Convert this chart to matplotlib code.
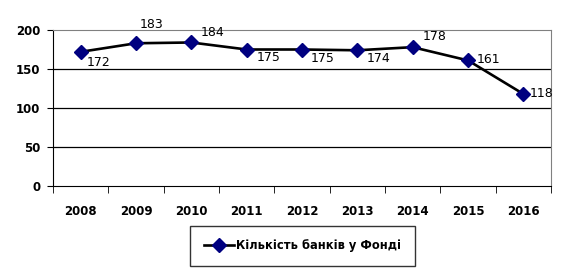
import numpy as np
import matplotlib.pyplot as plt

years = ["2008", "2009", "2010", "2011", "2012", "2013", "2014", "2015", "2016"]
banks = [172, 183, 184, 175, 175, 174, 178, 161, 118]
# label offsets in pixels (dx, dy), picked by eye from the reference
offsets = [(6, -11), (4, 19), (9, 10), (10, -8), (9, -9), (9, -8), (10, 11), (9, 1), (6, 0)]

fig = plt.figure(figsize=(5.61, 2.75), dpi=100)
ax = fig.add_axes([53 / 561, 1 - 186 / 275, 498 / 561, 156 / 275])

x = np.arange(len(years))
line, = ax.plot(x, banks, color="black", lw=1.9, marker="D", ms=7,
                mfc="#000080", mec="#000080", label="Кількість банків у Фонді",
                zorder=3)

for xi, v, (dx, dy) in zip(x, banks, offsets):
    ax.annotate(str(v), (xi, v), xytext=(dx, dy), textcoords="offset pixels",
                ha="left", va="center", fontsize=9)

ax.set_xlim(-0.5, len(years) - 0.5)
ax.set_ylim(0, 200)
ax.set_yticks([0, 50, 100, 150, 200])
ax.set_xticks(x)
ax.set_xticklabels(years, fontweight="bold", fontsize=8.5)
ax.set_xticks(np.arange(-0.5, len(years)), minor=True)
ax.tick_params(axis="x", which="major", length=0, pad=14)
ax.tick_params(axis="x", which="minor", length=5, direction="out", color="black")
ax.tick_params(axis="y", length=4, direction="out", color="black", pad=5)
for t in ax.get_yticklabels():
    t.set_fontweight("bold")
    t.set_fontsize(8.5)

for yv in [50, 100, 150]:
    ax.axhline(yv, color="black", lw=0.9, zorder=1)
ax.spines["top"].set_color("#808080")
ax.spines["right"].set_color("#808080")
ax.spines["left"].set_color("black")
ax.spines["bottom"].set_color("black")

leg = fig.legend(handles=[line], loc="center",
                 bbox_to_anchor=(302.5 / 561, 1 - 246 / 275),
                 prop={"weight": "bold", "size": 8.3}, frameon=True,
                 fancybox=False, edgecolor="black", borderpad=1.2,
                 handlelength=2.6, handletextpad=0.2, borderaxespad=0)
leg.get_frame().set_linewidth(1.0)

fig.savefig("out.png", dpi=100)
